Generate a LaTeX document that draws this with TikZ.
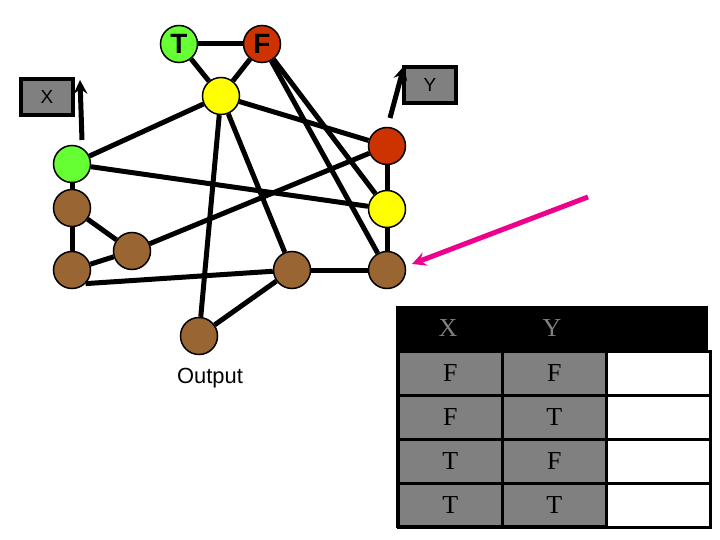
\documentclass[tikz,border=0pt]{standalone}
\usepackage{fontspec}
\setmainfont{Liberation Sans}
\newfontfamily\seriffont{Liberation Serif}
\begin{document}
\begin{tikzpicture}[x=1bp,y=-1bp,
  nd/.style={circle,draw=black,line width=1.5bp,minimum size=37bp,inner sep=0},
  ed/.style={line width=5bp},
  bx/.style={draw=black,line width=4bp,minimum width=52bp,minimum height=36bp,font=\fontsize{19}{19}\selectfont},
  cell/.style={draw=black,line width=2.5bp,minimum width=104bp,minimum height=44bp,inner sep=0,font=\seriffont\fontsize{26}{26}\selectfont}]
\useasboundingbox (0,0) rectangle (720,540);
\definecolor{brn}{RGB}{153,102,51}
\definecolor{grn}{RGB}{102,255,51}
\definecolor{rd}{RGB}{204,51,0}
\definecolor{yl}{RGB}{255,255,0}
\definecolor{gr}{RGB}{128,128,128}
\node[nd,fill=grn,font=\bfseries\fontsize{28}{28}\selectfont] (T) at (179,44) {T};
\node[nd,fill=rd,font=\bfseries\fontsize{28}{28}\selectfont] (F) at (262,44) {F};
\node[nd,fill=yl] (yt) at (221,96) {};
\node[nd,fill=rd] (rr) at (387,146) {};
\node[nd,fill=grn] (gl) at (72,164) {};
\node[nd,fill=brn] (b1) at (72,208) {};
\node[nd,fill=brn] (b2) at (132,251) {};
\node[nd,fill=brn] (b3) at (72,270) {};
\node[nd,fill=brn] (b4) at (292,270) {};
\node[nd,fill=brn] (b5) at (387,270) {};
\node[nd,fill=brn] (out) at (199,336) {};
\node[nd,fill=yl] (yr) at (387,209) {};
\node[bx,fill=gr] (X) at (47,97) {X};
\node[bx,fill=gr] (Y) at (430,85) {Y};
\node[font=\fontsize{22}{22}\selectfont] (ol) at (210,378) {Output};
\foreach \a/\b in {T/F,T/yt,F/yt,F/yr,F/b5,yt/gl,yt/rr,yt/out,yt/b4,gl/yr,gl/b1,b1/b3,b1/b2,b2/rr,b3/b2,b4/b5,b4/out,rr/yr,yr/b5}
  \draw[ed] (\a) -- (\b);
\draw[ed] (b3.south east) -- (b4);
\coordinate (xa) at (82,140);
\coordinate (ya) at (390,118);
\draw[ed,-stealth] (xa) -- (80,80);
\draw[ed,-stealth] (ya) -- (404,66);
\coordinate (m1) at (588,197);
\coordinate (m2) at (412,264);
\draw[line width=5bp,magenta,-stealth] (m1) -- (m2);
% table
\fill[black] (397,306) rectangle (708,350);
\node[font=\seriffont\fontsize{26}{26}\selectfont,text=gr] (hx) at (448,328) {X};
\node[font=\seriffont\fontsize{26}{26}\selectfont,text=gr] (hy) at (552,328) {Y};
\foreach \r/\p/\q in {0/F/F,1/F/T,2/T/F,3/T/T}{
  \node[cell,fill=gr,anchor=north west] at (397,350+44*\r) {\p};
  \node[cell,fill=gr,anchor=north west] at (501,350+44*\r) {\q};
  \node[cell,fill=white,anchor=north west] at (605,350+44*\r) {};
}
\draw[line width=3bp] (397,306) -- (397,526) -- (605,526);
\end{tikzpicture}
\end{document}
